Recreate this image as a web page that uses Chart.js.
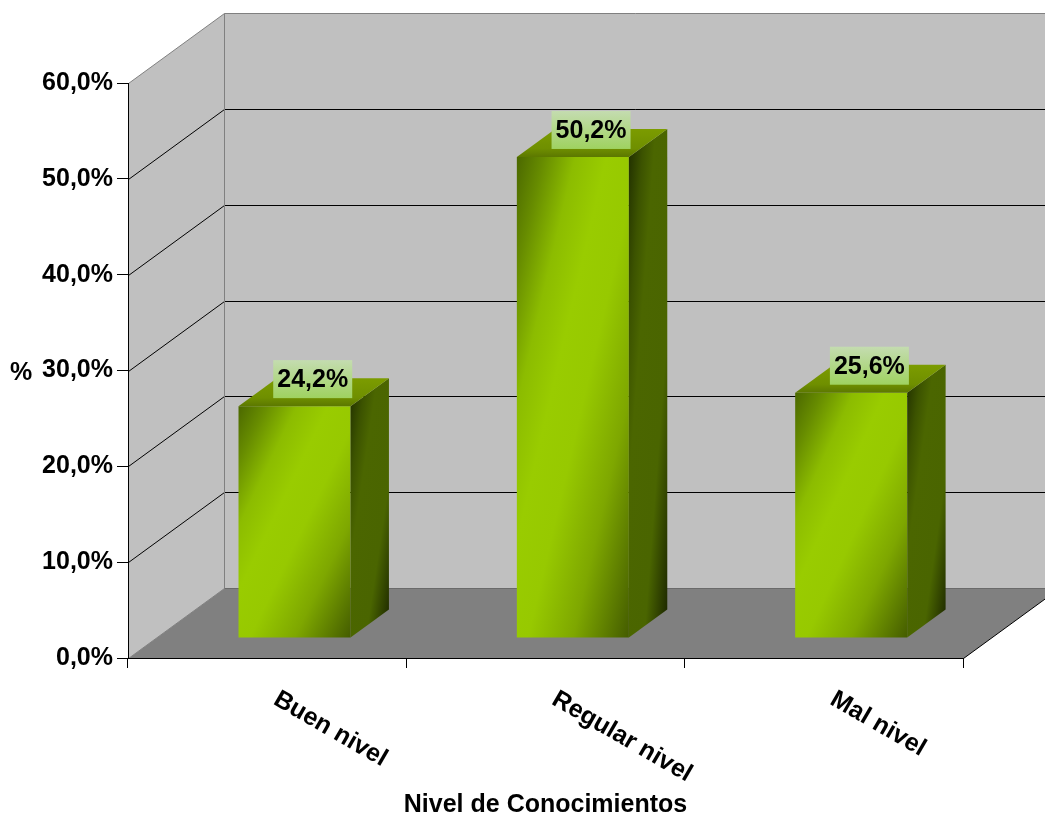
<!DOCTYPE html>
<html>
<head>
<meta charset="utf-8">
<script src="https://cdn.jsdelivr.net/npm/chart.js@4.4.1/dist/chart.umd.min.js"></script>
<style>
  html, body { margin: 0; padding: 0; background: #fff; }
  canvas { display: block; }
</style>
</head>
<body>
<canvas id="chart" width="1045" height="816"></canvas>
<script>
// Nivel de conocimientos: columnas 3D estilo Excel sobre Chart.js
const NIVELES = ["Buen nivel", "Regular nivel", "Mal nivel"];
const PORCENTAJES = [24.2, 50.2, 25.6];
const Y_MIN = 0, Y_MAX = 60, Y_PASO = 10;
const TITULO_X = "Nivel de Conocimientos";
const TITULO_Y = "%";

const FAMILIA = "'Liberation Sans', Arial, Helvetica, sans-serif";
const FUENTE = `bold 25px ${FAMILIA}`;
const PROF = { dx: 96, dy: 70 };              // profundidad de la caja
const BARRA = { frente: 0.285, grosor: 0.4 };  // posición/grosor de la columna en la caja
const pct = (v) => v.toFixed(1).replace(".", ",") + "%";

Chart.defaults.font.family = FAMILIA;
Chart.defaults.font.size = 25;
Chart.defaults.font.weight = "bold";
Chart.defaults.color = "#000";

function poly(ctx, pts, fill) {
  ctx.beginPath();
  pts.forEach(([x, y], i) => (i ? ctx.lineTo(x, y) : ctx.moveTo(x, y)));
  ctx.closePath();
  ctx.fillStyle = fill;
  ctx.fill();
}
function line(ctx, x1, y1, x2, y2) {
  ctx.beginPath(); ctx.moveTo(x1, y1); ctx.lineTo(x2, y2); ctx.stroke();
}
// degradado diagonal: isolíneas de la esquina inferior izquierda a la superior derecha
function diagGrad(ctx, x, y, w, h, stops) {
  const t = (2 * w * h) / (w * w + h * h);
  const g = ctx.createLinearGradient(x, y, x + t * h, y + t * w);
  stops.forEach(([o, c]) => g.addColorStop(o, c));
  return g;
}

function caja(chart) {
  const { ctx, chartArea: a, scales: { y } } = chart;
  const { dx, dy } = PROF;
  const x0 = a.left + 0.5, x1 = a.right + 0.5;
  const yt = Math.round(y.getPixelForValue(Y_MAX)) + 0.5;
  const yb = Math.round(y.getPixelForValue(Y_MIN)) + 0.5;
  ctx.save();
  poly(ctx, [[x0, yb], [x0, yt], [x0 + dx, yt - dy], [x0 + dx, yb - dy]], "#c0c0c0");
  poly(ctx, [[x0 + dx, yt - dy], [x1 + dx, yt - dy], [x1 + dx, yb - dy], [x0 + dx, yb - dy]], "#c0c0c0");
  poly(ctx, [[x0, yb], [x1, yb], [x1 + dx, yb - dy], [x0 + dx, yb - dy]], "#808080");

  ctx.lineWidth = 1;
  ctx.strokeStyle = "#000";
  for (let v = Y_MIN + Y_PASO; v < Y_MAX; v += Y_PASO) {
    const py = Math.round(y.getPixelForValue(v)) + 0.5;
    line(ctx, x0, py, x0 + dx, py - dy);
    line(ctx, x0 + dx, py - dy, x1 + dx, py - dy);
  }
  ctx.strokeStyle = "#808080";
  line(ctx, x0, yt, x0 + dx, yt - dy);
  line(ctx, x0 + dx, yt - dy, x1 + dx, yt - dy);
  line(ctx, x0 + dx, yt - dy, x0 + dx, yb - dy);
  line(ctx, x0, yb, x0 + dx, yb - dy);
  ctx.strokeStyle = "#6a6a6a";
  line(ctx, x0 + dx, yb - dy, x1 + dx, yb - dy);
  ctx.strokeStyle = "#000";
  line(ctx, x1, yb, x1 + dx, yb - dy);
  ctx.restore();
}

const columnas3d = {
  id: "columnas3d",
  beforeDraw: caja,
  beforeDatasetsDraw(chart) {
    const { ctx } = chart;
    ctx.save();
    ctx.translate(PROF.dx * BARRA.frente, -PROF.dy * BARRA.frente);
    chart.getDatasetMeta(0).data.forEach((el) => {
      const { x, y, base, width } = el.getProps(["x", "y", "base", "width"], true);
      el.options.backgroundColor = diagGrad(ctx, x - width / 2, y, width, base - y, [
        [0, "#4b6800"], [0.12, "#678c00"], [0.26, "#8cbc00"], [0.4, "#99cc00"],
        [0.55, "#97c900"], [0.75, "#7ea700"], [1, "#445c00"],
      ]);
    });
  },
  afterDatasetsDraw(chart) {
    const { ctx } = chart;
    const bx = PROF.dx * BARRA.grosor, by = PROF.dy * BARRA.grosor;
    const tops = [];
    chart.getDatasetMeta(0).data.forEach((el) => {
      const { x, y, base, width } = el.getProps(["x", "y", "base", "width"], true);
      const xl = x - width / 2, xr = x + width / 2;
      // cara lateral
      poly(ctx, [[xr, y], [xr + bx, y - by], [xr + bx, base - by], [xr, base]],
        diagGrad(ctx, xr, y - by, bx, base - y + by, [
          [0, "#1f2d00"], [0.2, "#3c5300"], [0.35, "#4b6600"], [0.7, "#4a6500"], [1, "#1a2400"],
        ]));
      // cara superior
      const g = ctx.createLinearGradient(0, y - by, 0, y);
      g.addColorStop(0, "#7c9c00");
      g.addColorStop(0.7, "#6f8f00");
      g.addColorStop(1, "#5c7800");
      poly(ctx, [[xl, y], [xl + bx, y - by], [xr + bx, y - by], [xr, y]], g);
      const m = ctx.getTransform();
      tops.push({ x: x + bx / 2 + m.e, y: y - by / 2 + m.f });
    });
    ctx.restore();

    // etiquetas de valor
    ctx.save();
    ctx.font = FUENTE;
    ctx.textAlign = "center";
    ctx.textBaseline = "middle";
    tops.forEach((p, i) => {
      const w = 79, h = 38, cx = p.x - 1, cy = p.y - 13;
      const g = ctx.createLinearGradient(0, cy - h / 2, 0, cy + h / 2);
      g.addColorStop(0, "#c4dcb0");
      g.addColorStop(1, "#9fd260");
      ctx.fillStyle = g;
      ctx.fillRect(cx - w / 2, cy - h / 2, w, h);
      ctx.fillStyle = "#000";
      ctx.fillText(pct(PORCENTAJES[i]), cx, cy + 1);
    });

    // categorías inclinadas
    const { x: xs, y: ys } = chart.scales;
    const yb = ys.getPixelForValue(Y_MIN);
    ctx.textAlign = "left";
    ctx.textBaseline = "alphabetic";
    NIVELES.forEach((n, i) => {
      ctx.save();
      ctx.translate(xs.getPixelForValue(i) + 14, yb + 30);
      ctx.rotate(Math.PI / 6);
      ctx.fillText(n, 0, 18);
      ctx.restore();
    });

    // títulos de ejes
    ctx.textAlign = "center";
    ctx.fillText(TITULO_X, (chart.chartArea.left + chart.chartArea.right) / 2, 812);
    ctx.fillText(TITULO_Y, 21, ys.getPixelForValue(30) + 9);
    ctx.restore();
  },
};

new Chart(document.getElementById("chart"), {
  type: "bar",
  data: {
    labels: NIVELES,
    datasets: [{
      data: PORCENTAJES,
      backgroundColor: () => "#99cc00",
      borderWidth: 0,
      categoryPercentage: 1,
      barPercentage: 0.4025,
    }],
  },
  options: {
    responsive: false,
    animation: false,
    layout: { padding: { top: 83, right: 82, left: 0, bottom: 0 } },
    plugins: { legend: { display: false }, tooltip: { enabled: false } },
    scales: {
      y: {
        min: Y_MIN, max: Y_MAX,
        ticks: { stepSize: Y_PASO, padding: 4, callback: (v) => pct(v) },
        grid: { drawOnChartArea: false, tickLength: 11, color: "#000" },
        border: { color: "#000" },
        afterFit: (s) => { s.width = 128; },
      },
      x: {
        ticks: { display: false },
        grid: { drawOnChartArea: false, tickLength: 10, color: "#000", offset: true },
        border: { color: "#000" },
        afterFit: (s) => { s.height = 158; },
      },
    },
  },
  plugins: [columnas3d],
});
</script>
</body>
</html>
